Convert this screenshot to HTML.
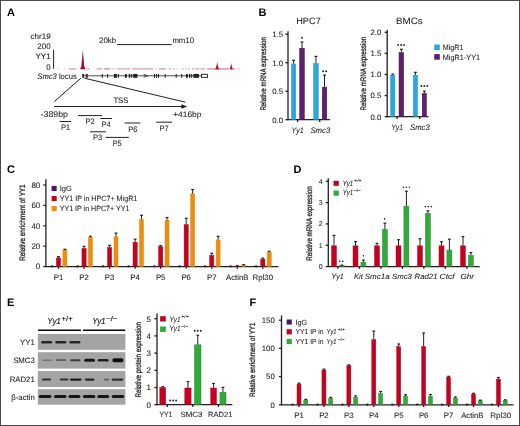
<!DOCTYPE html>
<html><head><meta charset="utf-8"><title>Figure</title>
<style>
html,body{margin:0;padding:0;background:#fff;}
body{width:520px;height:426px;overflow:hidden;}
body{position:relative;}
svg{display:block;font-family:"Liberation Sans", sans-serif;text-rendering:geometricPrecision;filter:blur(0.3px);}
#bd{position:absolute;left:0;top:0;width:518px;height:424px;border:1px solid #4a4a4a;}
</style></head><body>
<svg width="520" height="426" viewBox="0 0 520 426">
<defs><filter id="bl" x="-10%" y="-50%" width="120%" height="200%"><feGaussianBlur stdDeviation="0.45"/></filter></defs>
<rect x="0" y="0" width="520" height="426" fill="#fff"/>
<text x="7" y="16.1" font-size="11" fill="#000" font-weight="bold">A</text>
<text x="50.6" y="38.6" font-size="8" fill="#231f20" text-anchor="end" stroke="#231f20" stroke-width="0.08">chr19</text>
<text x="50.6" y="48.7" font-size="8" fill="#231f20" text-anchor="end" stroke="#231f20" stroke-width="0.08">200</text>
<text x="50.6" y="59.1" font-size="8" fill="#231f20" text-anchor="end" stroke="#231f20" stroke-width="0.08">YY1</text>
<text x="50.6" y="69.7" font-size="8" fill="#231f20" text-anchor="end" stroke="#231f20" stroke-width="0.08">0</text>
<line x1="53.6" y1="49.6" x2="53.6" y2="68.8" stroke="#231f20" stroke-width="1"/>
<text x="99" y="43" font-size="8" fill="#231f20" stroke="#231f20" stroke-width="0.08" textLength="17.2" lengthAdjust="spacingAndGlyphs">20kb</text>
<line x1="117" y1="44.6" x2="171.6" y2="44.6" stroke="#231f20" stroke-width="1"/>
<text x="172.4" y="43" font-size="8" fill="#231f20" stroke="#231f20" stroke-width="0.08" textLength="21.6" lengthAdjust="spacingAndGlyphs">mm10</text>
<line x1="57.2" y1="68.9" x2="58.6" y2="68.9" stroke="#b8506c" stroke-width="1.3" opacity="0.35"/>
<line x1="63.5" y1="68.9" x2="64.8" y2="68.9" stroke="#b8506c" stroke-width="1.3" opacity="0.3"/>
<line x1="68.5" y1="68.9" x2="76.3" y2="68.9" stroke="#b8506c" stroke-width="1.3" opacity="0.55"/>
<line x1="86.3" y1="68.9" x2="90" y2="68.9" stroke="#b8506c" stroke-width="1.3" opacity="0.45"/>
<line x1="96.5" y1="68.9" x2="102.2" y2="68.9" stroke="#b8506c" stroke-width="1.3" opacity="0.6"/>
<line x1="104.2" y1="68.9" x2="110.2" y2="68.9" stroke="#b8506c" stroke-width="1.3" opacity="0.7"/>
<line x1="112" y1="68.9" x2="115" y2="68.9" stroke="#b8506c" stroke-width="1.3" opacity="0.3"/>
<line x1="116.6" y1="68.9" x2="130.5" y2="68.9" stroke="#b8506c" stroke-width="1.3" opacity="0.5"/>
<line x1="132.3" y1="68.9" x2="153" y2="68.9" stroke="#b8506c" stroke-width="1.3" opacity="0.55"/>
<line x1="155.2" y1="68.9" x2="156.6" y2="68.9" stroke="#b8506c" stroke-width="1.3" opacity="0.45"/>
<line x1="158.9" y1="68.9" x2="165.9" y2="68.9" stroke="#b8506c" stroke-width="1.3" opacity="0.6"/>
<line x1="168.6" y1="68.9" x2="170.9" y2="68.9" stroke="#b8506c" stroke-width="1.3" opacity="0.5"/>
<line x1="172.8" y1="68.9" x2="174.6" y2="68.9" stroke="#b8506c" stroke-width="1.3" opacity="0.45"/>
<line x1="176.5" y1="68.9" x2="177.9" y2="68.9" stroke="#b8506c" stroke-width="1.3" opacity="0.4"/>
<line x1="181.5" y1="68.9" x2="183.9" y2="68.9" stroke="#b8506c" stroke-width="1.3" opacity="0.45"/>
<line x1="184.8" y1="68.9" x2="186.6" y2="68.9" stroke="#b8506c" stroke-width="1.3" opacity="0.45"/>
<line x1="188" y1="68.9" x2="189.9" y2="68.9" stroke="#b8506c" stroke-width="1.3" opacity="0.45"/>
<line x1="192.2" y1="68.9" x2="194.5" y2="68.9" stroke="#b8506c" stroke-width="1.3" opacity="0.5"/>
<line x1="196" y1="68.9" x2="199.5" y2="68.9" stroke="#b8506c" stroke-width="1.3" opacity="0.55"/>
<line x1="200.5" y1="68.9" x2="205" y2="68.9" stroke="#b8506c" stroke-width="1.3" opacity="0.55"/>
<line x1="207" y1="68.9" x2="216" y2="68.9" stroke="#b8506c" stroke-width="1.3" opacity="0.65"/>
<line x1="218" y1="68.9" x2="229" y2="68.9" stroke="#b8506c" stroke-width="1.3" opacity="0.7"/>
<line x1="232" y1="68.9" x2="235" y2="68.9" stroke="#b8506c" stroke-width="1.3" opacity="0.6"/>
<line x1="237.5" y1="68.9" x2="239.2" y2="68.9" stroke="#b8506c" stroke-width="1.3" opacity="0.45"/>
<path d="M80.0 69.3 L81.3 66.5 L82.1 58 L82.8 50.0 L83.5 58 L84.3 66.5 L85.6 69.3 Z" fill="#a8072a"/>
<path d="M215.3 69.4 L216.7 65 L217.2 61.8 L217.7 65 L219.1 69.4 Z" fill="#b0102e"/>
<path d="M229.6 69.4 L230.8 65.5 L231.2 62.8 L231.6 65.5 L232.8 69.4 Z" fill="#b0102e"/>
<text x="37.3" y="78.5" font-size="8" fill="#231f20" stroke="#231f20" stroke-width="0.08" textLength="39.4" lengthAdjust="spacingAndGlyphs"><tspan font-style="italic">Smc3</tspan> locus</text>
<line x1="84" y1="75.8" x2="201.2" y2="75.8" stroke="#4a4a4a" stroke-width="1"/>
<rect x="85.7" y="73.9" width="2.2" height="3.9" fill="#5e2a3a"/>
<rect x="82.3" y="73.9" width="1.7" height="3.9" fill="#231f20"/>
<rect x="101.8" y="73.9" width="1" height="3.9" fill="#231f20"/>
<rect x="107.1" y="73.9" width="1" height="3.9" fill="#231f20"/>
<rect x="113.9" y="73.9" width="2.9" height="3.9" fill="#231f20"/>
<rect x="117.8" y="73.9" width="1" height="3.9" fill="#231f20"/>
<rect x="124.9" y="73.9" width="1.9" height="3.9" fill="#231f20"/>
<rect x="128.8" y="73.9" width="1.4" height="3.9" fill="#231f20"/>
<rect x="131.2" y="73.9" width="1" height="3.9" fill="#231f20"/>
<rect x="133.2" y="73.9" width="4.2" height="3.9" fill="#231f20"/>
<rect x="154" y="73.9" width="1" height="3.9" fill="#231f20"/>
<rect x="155.9" y="73.9" width="1" height="3.9" fill="#231f20"/>
<rect x="157.9" y="73.9" width="1.1" height="3.9" fill="#231f20"/>
<rect x="164.7" y="73.9" width="1" height="3.9" fill="#231f20"/>
<rect x="175.7" y="73.9" width="1" height="3.9" fill="#231f20"/>
<rect x="181.2" y="73.9" width="1" height="3.9" fill="#231f20"/>
<rect x="186" y="73.9" width="1.8" height="3.9" fill="#231f20"/>
<rect x="189" y="73.9" width="1.3" height="3.9" fill="#231f20"/>
<rect x="191.2" y="73.9" width="1" height="3.9" fill="#231f20"/>
<rect x="193.4" y="73.9" width="5.5" height="3.9" fill="#231f20"/>
<path d="M143.6 74.3 L147.6 75.8 L143.6 77.3" fill="none" stroke="#231f20" stroke-width="0.8"/>
<rect x="201.5" y="74.3" width="6" height="3.1" fill="#fff" stroke="#231f20" stroke-width="0.9"/>
<line x1="81" y1="78" x2="54.4" y2="101.5" stroke="#231f20" stroke-width="1"/>
<line x1="84.5" y1="78.2" x2="185.4" y2="102.2" stroke="#231f20" stroke-width="1"/>
<line x1="54.1" y1="106.5" x2="183.5" y2="106.5" stroke="#231f20" stroke-width="1.1"/>
<path d="M181.4 104.3 L187.2 106.5 L181.4 108.7 Z" fill="#231f20"/>
<text x="113.4" y="102.6" font-size="8" fill="#231f20" stroke="#231f20" stroke-width="0.08" textLength="15" lengthAdjust="spacingAndGlyphs">TSS</text>
<text x="40.6" y="116.9" font-size="8.3" fill="#231f20" stroke="#231f20" stroke-width="0.08" textLength="27.4" lengthAdjust="spacingAndGlyphs">-389bp</text>
<text x="173.2" y="117.1" font-size="8" fill="#231f20" stroke="#231f20" stroke-width="0.08" textLength="28.2" lengthAdjust="spacingAndGlyphs">+416bp</text>
<line x1="59.6" y1="121.5" x2="71.2" y2="121.5" stroke="#231f20" stroke-width="1"/>
<text x="60.9" y="130.3" font-size="8" fill="#231f20" stroke="#231f20" stroke-width="0.08" textLength="9.2" lengthAdjust="spacingAndGlyphs">P1</text>
<line x1="78" y1="115.6" x2="101.9" y2="115.6" stroke="#231f20" stroke-width="1"/>
<text x="85.5" y="123.8" font-size="8" fill="#231f20" stroke="#231f20" stroke-width="0.08" textLength="9.2" lengthAdjust="spacingAndGlyphs">P2</text>
<line x1="100.4" y1="118.5" x2="111.9" y2="118.5" stroke="#231f20" stroke-width="1"/>
<text x="101.6" y="127.2" font-size="8" fill="#231f20" stroke="#231f20" stroke-width="0.08" textLength="9.2" lengthAdjust="spacingAndGlyphs">P4</text>
<line x1="90" y1="131.8" x2="105.8" y2="131.8" stroke="#231f20" stroke-width="1"/>
<text x="92.9" y="140.4" font-size="8" fill="#231f20" stroke="#231f20" stroke-width="0.08" textLength="9.2" lengthAdjust="spacingAndGlyphs">P3</text>
<line x1="105.8" y1="137.4" x2="128.8" y2="137.4" stroke="#231f20" stroke-width="1"/>
<text x="112.4" y="146.2" font-size="8" fill="#231f20" stroke="#231f20" stroke-width="0.08" textLength="9.2" lengthAdjust="spacingAndGlyphs">P5</text>
<line x1="124.6" y1="123" x2="140.3" y2="123" stroke="#231f20" stroke-width="1"/>
<text x="128.2" y="131.9" font-size="8" fill="#231f20" stroke="#231f20" stroke-width="0.08" textLength="9.2" lengthAdjust="spacingAndGlyphs">P6</text>
<line x1="156.2" y1="122.2" x2="172" y2="122.2" stroke="#231f20" stroke-width="1"/>
<text x="159.4" y="130.8" font-size="8" fill="#231f20" stroke="#231f20" stroke-width="0.08" textLength="9.2" lengthAdjust="spacingAndGlyphs">P7</text>
<text x="258.6" y="16.1" font-size="11" fill="#000" font-weight="bold">B</text>
<text x="296.2" y="23.6" font-size="9.2" fill="#231f20" stroke="#231f20" stroke-width="0.08" textLength="24.6" lengthAdjust="spacingAndGlyphs">HPC7</text>
<text x="266.3" y="73.8" font-size="8" fill="#231f20" text-anchor="middle" stroke="#231f20" stroke-width="0.3" textLength="73.6" lengthAdjust="spacingAndGlyphs" transform="rotate(-90 266.3 73.8)">Relative mRNA expression</text>
<line x1="288" y1="31.3" x2="288" y2="120.2" stroke="#231f20" stroke-width="1.3"/>
<line x1="285.4" y1="34.2" x2="288" y2="34.2" stroke="#231f20" stroke-width="1.3"/>
<text x="283" y="37.01" font-size="7.8" fill="#231f20" text-anchor="end" stroke="#231f20" stroke-width="0.08">1.5</text>
<line x1="285.4" y1="62.7" x2="288" y2="62.7" stroke="#231f20" stroke-width="1.3"/>
<text x="283" y="65.51" font-size="7.8" fill="#231f20" text-anchor="end" stroke="#231f20" stroke-width="0.08">1.0</text>
<line x1="285.4" y1="91.2" x2="288" y2="91.2" stroke="#231f20" stroke-width="1.3"/>
<text x="283" y="94.01" font-size="7.8" fill="#231f20" text-anchor="end" stroke="#231f20" stroke-width="0.08">0.5</text>
<line x1="285.4" y1="119.7" x2="288" y2="119.7" stroke="#231f20" stroke-width="1.3"/>
<text x="283" y="122.51" font-size="7.8" fill="#231f20" text-anchor="end" stroke="#231f20" stroke-width="0.08">0.0</text>
<line x1="288" y1="119.7" x2="329.9" y2="119.7" stroke="#231f20" stroke-width="1.3"/>
<line x1="297.6" y1="119.7" x2="297.6" y2="121.9" stroke="#231f20" stroke-width="1.3"/>
<line x1="319.7" y1="119.7" x2="319.7" y2="121.9" stroke="#231f20" stroke-width="1.3"/>
<rect x="291.5" y="63.9" width="4.2" height="55.8" fill="#29a8e0" stroke="#1d88bd" stroke-width="0.45"/>
<line x1="293.6" y1="60.2" x2="293.6" y2="63.7" stroke="#231f20" stroke-width="1"/>
<line x1="292.2" y1="60.3" x2="295" y2="60.3" stroke="#231f20" stroke-width="1.2"/>
<rect x="299.6" y="48.2" width="4.8" height="71.5" fill="#5e2068" stroke="#43134f" stroke-width="0.45"/>
<line x1="302" y1="41.9" x2="302" y2="48" stroke="#231f20" stroke-width="1"/>
<line x1="300.6" y1="42" x2="303.4" y2="42" stroke="#231f20" stroke-width="1.2"/>
<rect x="313.6" y="63.7" width="4.7" height="56" fill="#29a8e0" stroke="#1d88bd" stroke-width="0.45"/>
<line x1="315.95" y1="56.3" x2="315.95" y2="63.5" stroke="#231f20" stroke-width="1"/>
<line x1="314.55" y1="56.4" x2="317.35" y2="56.4" stroke="#231f20" stroke-width="1.2"/>
<rect x="322.2" y="87.1" width="4.6" height="32.6" fill="#5e2068" stroke="#43134f" stroke-width="0.45"/>
<line x1="324.5" y1="75" x2="324.5" y2="86.9" stroke="#231f20" stroke-width="1"/>
<line x1="323.1" y1="75.1" x2="325.9" y2="75.1" stroke="#231f20" stroke-width="1.2"/>
<circle cx="302" cy="37.8" r="0.95" fill="#231f20"/>
<circle cx="323.1" cy="71.2" r="0.95" fill="#231f20"/>
<circle cx="326.1" cy="71.2" r="0.95" fill="#231f20"/>
<text x="291.6" y="132.6" font-size="8" fill="#231f20" font-style="italic" stroke="#231f20" stroke-width="0.08" textLength="12" lengthAdjust="spacingAndGlyphs">Yy1</text>
<text x="310.4" y="132.6" font-size="8" fill="#231f20" font-style="italic" stroke="#231f20" stroke-width="0.08" textLength="19.8" lengthAdjust="spacingAndGlyphs">Smc3</text>
<text x="396.1" y="23.6" font-size="9.2" fill="#231f20" stroke="#231f20" stroke-width="0.08" textLength="26.6" lengthAdjust="spacingAndGlyphs">BMCs</text>
<text x="366" y="73.6" font-size="8" fill="#231f20" text-anchor="middle" stroke="#231f20" stroke-width="0.3" textLength="73.6" lengthAdjust="spacingAndGlyphs" transform="rotate(-90 366 73.6)">Relative mRNA expression</text>
<line x1="387.2" y1="29.7" x2="387.2" y2="117.2" stroke="#231f20" stroke-width="1.3"/>
<line x1="384.6" y1="32.3" x2="387.2" y2="32.3" stroke="#231f20" stroke-width="1.3"/>
<text x="381.3" y="35.11" font-size="7.8" fill="#231f20" text-anchor="end" stroke="#231f20" stroke-width="0.08">2.0</text>
<line x1="384.6" y1="53.4" x2="387.2" y2="53.4" stroke="#231f20" stroke-width="1.3"/>
<text x="381.3" y="56.21" font-size="7.8" fill="#231f20" text-anchor="end" stroke="#231f20" stroke-width="0.08">1.5</text>
<line x1="384.6" y1="74.5" x2="387.2" y2="74.5" stroke="#231f20" stroke-width="1.3"/>
<text x="381.3" y="77.31" font-size="7.8" fill="#231f20" text-anchor="end" stroke="#231f20" stroke-width="0.08">1.0</text>
<line x1="384.6" y1="95.6" x2="387.2" y2="95.6" stroke="#231f20" stroke-width="1.3"/>
<text x="381.3" y="98.41" font-size="7.8" fill="#231f20" text-anchor="end" stroke="#231f20" stroke-width="0.08">0.5</text>
<line x1="384.6" y1="116.7" x2="387.2" y2="116.7" stroke="#231f20" stroke-width="1.3"/>
<text x="381.3" y="119.51" font-size="7.8" fill="#231f20" text-anchor="end" stroke="#231f20" stroke-width="0.08">0.0</text>
<line x1="387.2" y1="116.7" x2="428.5" y2="116.7" stroke="#231f20" stroke-width="1.3"/>
<line x1="397" y1="116.7" x2="397" y2="118.9" stroke="#231f20" stroke-width="1.3"/>
<line x1="419.7" y1="116.7" x2="419.7" y2="118.9" stroke="#231f20" stroke-width="1.3"/>
<rect x="390.6" y="75.2" width="4.3" height="41.5" fill="#29a8e0" stroke="#1d88bd" stroke-width="0.45"/>
<line x1="392.75" y1="74" x2="392.75" y2="75" stroke="#231f20" stroke-width="1"/>
<line x1="391.35" y1="74.1" x2="394.15" y2="74.1" stroke="#231f20" stroke-width="1.2"/>
<rect x="399" y="52.5" width="4.7" height="64.2" fill="#5e2068" stroke="#43134f" stroke-width="0.45"/>
<line x1="401.35" y1="49.2" x2="401.35" y2="52.3" stroke="#231f20" stroke-width="1"/>
<line x1="399.95" y1="49.3" x2="402.75" y2="49.3" stroke="#231f20" stroke-width="1.2"/>
<rect x="413.3" y="75.2" width="4.2" height="41.5" fill="#29a8e0" stroke="#1d88bd" stroke-width="0.45"/>
<line x1="415.4" y1="72.2" x2="415.4" y2="75" stroke="#231f20" stroke-width="1"/>
<line x1="414" y1="72.3" x2="416.8" y2="72.3" stroke="#231f20" stroke-width="1.2"/>
<rect x="422.2" y="93.4" width="4.3" height="23.3" fill="#5e2068" stroke="#43134f" stroke-width="0.45"/>
<line x1="424.35" y1="91" x2="424.35" y2="93.2" stroke="#231f20" stroke-width="1"/>
<line x1="422.95" y1="91.1" x2="425.75" y2="91.1" stroke="#231f20" stroke-width="1.2"/>
<circle cx="398.1" cy="44.9" r="0.95" fill="#231f20"/>
<circle cx="401.1" cy="44.9" r="0.95" fill="#231f20"/>
<circle cx="404.1" cy="44.9" r="0.95" fill="#231f20"/>
<circle cx="421.3" cy="86" r="0.95" fill="#231f20"/>
<circle cx="424.3" cy="86" r="0.95" fill="#231f20"/>
<circle cx="427.3" cy="86" r="0.95" fill="#231f20"/>
<text x="391.3" y="129.6" font-size="8" fill="#231f20" font-style="italic" stroke="#231f20" stroke-width="0.08" textLength="11.8" lengthAdjust="spacingAndGlyphs">Yy1</text>
<text x="410" y="129.6" font-size="8" fill="#231f20" font-style="italic" stroke="#231f20" stroke-width="0.08" textLength="19.8" lengthAdjust="spacingAndGlyphs">Smc3</text>
<rect x="434.2" y="44.5" width="5.6" height="5.6" fill="#29a8e0"/>
<rect x="434.2" y="54.1" width="5.6" height="5.6" fill="#5e2068"/>
<text x="442.7" y="49.9" font-size="7.5" fill="#231f20" stroke="#231f20" stroke-width="0.08" textLength="20.8" lengthAdjust="spacingAndGlyphs">MigR1</text>
<text x="442.7" y="59.6" font-size="7.5" fill="#231f20" stroke="#231f20" stroke-width="0.08" textLength="37.4" lengthAdjust="spacingAndGlyphs">MigR1-YY1</text>
<text x="6.9" y="172.6" font-size="11" fill="#000" font-weight="bold">C</text>
<text x="25.2" y="222.6" font-size="8" fill="#231f20" text-anchor="middle" stroke="#231f20" stroke-width="0.3" textLength="76.4" lengthAdjust="spacingAndGlyphs" transform="rotate(-90 25.2 222.6)">Relative enrichment of YY1</text>
<line x1="45.9" y1="179.2" x2="45.9" y2="267.1" stroke="#231f20" stroke-width="1.3"/>
<line x1="43.3" y1="185" x2="45.9" y2="185" stroke="#231f20" stroke-width="1.3"/>
<text x="40.3" y="187.88" font-size="8" fill="#231f20" text-anchor="end" stroke="#231f20" stroke-width="0.08">80</text>
<line x1="43.3" y1="205.4" x2="45.9" y2="205.4" stroke="#231f20" stroke-width="1.3"/>
<text x="40.3" y="208.28" font-size="8" fill="#231f20" text-anchor="end" stroke="#231f20" stroke-width="0.08">60</text>
<line x1="43.3" y1="225.8" x2="45.9" y2="225.8" stroke="#231f20" stroke-width="1.3"/>
<text x="40.3" y="228.68" font-size="8" fill="#231f20" text-anchor="end" stroke="#231f20" stroke-width="0.08">40</text>
<line x1="43.3" y1="246.2" x2="45.9" y2="246.2" stroke="#231f20" stroke-width="1.3"/>
<text x="40.3" y="249.08" font-size="8" fill="#231f20" text-anchor="end" stroke="#231f20" stroke-width="0.08">20</text>
<line x1="43.3" y1="266.6" x2="45.9" y2="266.6" stroke="#231f20" stroke-width="1.3"/>
<text x="40.3" y="269.48" font-size="8" fill="#231f20" text-anchor="end" stroke="#231f20" stroke-width="0.08">0</text>
<line x1="45.9" y1="266.6" x2="278.5" y2="266.6" stroke="#231f20" stroke-width="1.3"/>
<line x1="58.5" y1="266.6" x2="58.5" y2="268.8" stroke="#231f20" stroke-width="1.3"/>
<line x1="84.04" y1="266.6" x2="84.04" y2="268.8" stroke="#231f20" stroke-width="1.3"/>
<line x1="109.58" y1="266.6" x2="109.58" y2="268.8" stroke="#231f20" stroke-width="1.3"/>
<line x1="135.12" y1="266.6" x2="135.12" y2="268.8" stroke="#231f20" stroke-width="1.3"/>
<line x1="160.66" y1="266.6" x2="160.66" y2="268.8" stroke="#231f20" stroke-width="1.3"/>
<line x1="186.2" y1="266.6" x2="186.2" y2="268.8" stroke="#231f20" stroke-width="1.3"/>
<line x1="211.74" y1="266.6" x2="211.74" y2="268.8" stroke="#231f20" stroke-width="1.3"/>
<line x1="237.28" y1="266.6" x2="237.28" y2="268.8" stroke="#231f20" stroke-width="1.3"/>
<line x1="262.82" y1="266.6" x2="262.82" y2="268.8" stroke="#231f20" stroke-width="1.3"/>
<ellipse cx="51.9" cy="266.3" rx="1.3" ry="1.1" fill="#231f20"/>
<rect x="56.4" y="257.9" width="4.2" height="8.7" fill="#c6001f" stroke="#a00a24" stroke-width="0.45"/>
<line x1="58.5" y1="256.5" x2="58.5" y2="257.7" stroke="#231f20" stroke-width="1"/>
<line x1="57.1" y1="256.6" x2="59.9" y2="256.6" stroke="#231f20" stroke-width="1.2"/>
<rect x="62.9" y="249.9" width="4" height="16.7" fill="#f08c0c" stroke="#d98200" stroke-width="0.45"/>
<line x1="64.9" y1="249.2" x2="64.9" y2="249.7" stroke="#231f20" stroke-width="1"/>
<line x1="63.5" y1="249.3" x2="66.3" y2="249.3" stroke="#231f20" stroke-width="1.2"/>
<ellipse cx="77.44" cy="266.3" rx="1.3" ry="1.1" fill="#231f20"/>
<rect x="81.94" y="248.4" width="4.2" height="18.2" fill="#c6001f" stroke="#a00a24" stroke-width="0.45"/>
<line x1="84.04" y1="246.2" x2="84.04" y2="248.2" stroke="#231f20" stroke-width="1"/>
<line x1="82.64" y1="246.3" x2="85.44" y2="246.3" stroke="#231f20" stroke-width="1.2"/>
<rect x="88.44" y="237.6" width="4" height="29" fill="#f08c0c" stroke="#d98200" stroke-width="0.45"/>
<line x1="90.44" y1="236.2" x2="90.44" y2="237.4" stroke="#231f20" stroke-width="1"/>
<line x1="89.04" y1="236.3" x2="91.84" y2="236.3" stroke="#231f20" stroke-width="1.2"/>
<ellipse cx="102.98" cy="266.3" rx="1.3" ry="1.1" fill="#231f20"/>
<rect x="107.48" y="247.4" width="4.2" height="19.2" fill="#c6001f" stroke="#a00a24" stroke-width="0.45"/>
<line x1="109.58" y1="245.3" x2="109.58" y2="247.2" stroke="#231f20" stroke-width="1"/>
<line x1="108.18" y1="245.4" x2="110.98" y2="245.4" stroke="#231f20" stroke-width="1.2"/>
<rect x="113.98" y="236.9" width="4" height="29.7" fill="#f08c0c" stroke="#d98200" stroke-width="0.45"/>
<line x1="115.98" y1="233" x2="115.98" y2="236.7" stroke="#231f20" stroke-width="1"/>
<line x1="114.58" y1="233.1" x2="117.38" y2="233.1" stroke="#231f20" stroke-width="1.2"/>
<ellipse cx="128.52" cy="266.3" rx="1.3" ry="1.1" fill="#231f20"/>
<rect x="133.02" y="242.2" width="4.2" height="24.4" fill="#c6001f" stroke="#a00a24" stroke-width="0.45"/>
<line x1="135.12" y1="239.1" x2="135.12" y2="242" stroke="#231f20" stroke-width="1"/>
<line x1="133.72" y1="239.2" x2="136.52" y2="239.2" stroke="#231f20" stroke-width="1.2"/>
<rect x="139.52" y="219.6" width="4" height="47" fill="#f08c0c" stroke="#d98200" stroke-width="0.45"/>
<line x1="141.52" y1="215.2" x2="141.52" y2="219.4" stroke="#231f20" stroke-width="1"/>
<line x1="140.12" y1="215.3" x2="142.92" y2="215.3" stroke="#231f20" stroke-width="1.2"/>
<ellipse cx="154.06" cy="266.3" rx="1.3" ry="1.1" fill="#231f20"/>
<rect x="158.56" y="246.7" width="4.2" height="19.9" fill="#c6001f" stroke="#a00a24" stroke-width="0.45"/>
<line x1="160.66" y1="245.6" x2="160.66" y2="246.5" stroke="#231f20" stroke-width="1"/>
<line x1="159.26" y1="245.7" x2="162.06" y2="245.7" stroke="#231f20" stroke-width="1.2"/>
<rect x="165.06" y="220.1" width="4" height="46.5" fill="#f08c0c" stroke="#d98200" stroke-width="0.45"/>
<line x1="167.06" y1="217.4" x2="167.06" y2="219.9" stroke="#231f20" stroke-width="1"/>
<line x1="165.66" y1="217.5" x2="168.46" y2="217.5" stroke="#231f20" stroke-width="1.2"/>
<ellipse cx="179.6" cy="266.3" rx="1.3" ry="1.1" fill="#231f20"/>
<rect x="184.1" y="224.6" width="4.2" height="42" fill="#c6001f" stroke="#a00a24" stroke-width="0.45"/>
<line x1="186.2" y1="218.2" x2="186.2" y2="224.4" stroke="#231f20" stroke-width="1"/>
<line x1="184.8" y1="218.3" x2="187.6" y2="218.3" stroke="#231f20" stroke-width="1.2"/>
<rect x="190.6" y="193.8" width="4" height="72.8" fill="#f08c0c" stroke="#d98200" stroke-width="0.45"/>
<line x1="192.6" y1="189.4" x2="192.6" y2="193.6" stroke="#231f20" stroke-width="1"/>
<line x1="191.2" y1="189.5" x2="194" y2="189.5" stroke="#231f20" stroke-width="1.2"/>
<ellipse cx="205.14" cy="266.3" rx="1.3" ry="1.1" fill="#231f20"/>
<rect x="209.64" y="255.4" width="4.2" height="11.2" fill="#c6001f" stroke="#a00a24" stroke-width="0.45"/>
<line x1="211.74" y1="253.2" x2="211.74" y2="255.2" stroke="#231f20" stroke-width="1"/>
<line x1="210.34" y1="253.3" x2="213.14" y2="253.3" stroke="#231f20" stroke-width="1.2"/>
<rect x="216.14" y="239.9" width="4" height="26.7" fill="#f08c0c" stroke="#d98200" stroke-width="0.45"/>
<line x1="218.14" y1="236.2" x2="218.14" y2="239.7" stroke="#231f20" stroke-width="1"/>
<line x1="216.74" y1="236.3" x2="219.54" y2="236.3" stroke="#231f20" stroke-width="1.2"/>
<ellipse cx="230.68" cy="266.3" rx="1.3" ry="1.1" fill="#231f20"/>
<rect x="235.18" y="266.2" width="4.2" height="0.4" fill="#c6001f" stroke="#a00a24" stroke-width="0.45"/>
<line x1="237.28" y1="265.6" x2="237.28" y2="266" stroke="#231f20" stroke-width="1"/>
<line x1="235.88" y1="265.7" x2="238.68" y2="265.7" stroke="#231f20" stroke-width="1.2"/>
<rect x="241.68" y="265.2" width="4" height="1.4" fill="#f08c0c" stroke="#d98200" stroke-width="0.45"/>
<line x1="243.68" y1="264.6" x2="243.68" y2="265" stroke="#231f20" stroke-width="1"/>
<line x1="242.28" y1="264.7" x2="245.08" y2="264.7" stroke="#231f20" stroke-width="1.2"/>
<ellipse cx="256.22" cy="266.3" rx="1.3" ry="1.1" fill="#231f20"/>
<rect x="260.72" y="259.2" width="4.2" height="7.4" fill="#c6001f" stroke="#a00a24" stroke-width="0.45"/>
<line x1="262.82" y1="258" x2="262.82" y2="259" stroke="#231f20" stroke-width="1"/>
<line x1="261.42" y1="258.1" x2="264.22" y2="258.1" stroke="#231f20" stroke-width="1.2"/>
<rect x="267.22" y="252.4" width="4" height="14.2" fill="#f08c0c" stroke="#d98200" stroke-width="0.45"/>
<line x1="269.22" y1="251.2" x2="269.22" y2="252.2" stroke="#231f20" stroke-width="1"/>
<line x1="267.82" y1="251.3" x2="270.62" y2="251.3" stroke="#231f20" stroke-width="1.2"/>
<text x="58.5" y="279.6" font-size="7.8" fill="#231f20" text-anchor="middle" stroke="#231f20" stroke-width="0.08">P1</text>
<text x="84.04" y="279.6" font-size="7.8" fill="#231f20" text-anchor="middle" stroke="#231f20" stroke-width="0.08">P2</text>
<text x="109.58" y="279.6" font-size="7.8" fill="#231f20" text-anchor="middle" stroke="#231f20" stroke-width="0.08">P3</text>
<text x="135.12" y="279.6" font-size="7.8" fill="#231f20" text-anchor="middle" stroke="#231f20" stroke-width="0.08">P4</text>
<text x="160.66" y="279.6" font-size="7.8" fill="#231f20" text-anchor="middle" stroke="#231f20" stroke-width="0.08">P5</text>
<text x="186.2" y="279.6" font-size="7.8" fill="#231f20" text-anchor="middle" stroke="#231f20" stroke-width="0.08">P6</text>
<text x="211.74" y="279.6" font-size="7.8" fill="#231f20" text-anchor="middle" stroke="#231f20" stroke-width="0.08">P7</text>
<text x="237.28" y="279.6" font-size="7.8" fill="#231f20" text-anchor="middle" stroke="#231f20" stroke-width="0.08" textLength="22.4" lengthAdjust="spacingAndGlyphs">ActinB</text>
<text x="262.82" y="279.6" font-size="7.8" fill="#231f20" text-anchor="middle" stroke="#231f20" stroke-width="0.08" textLength="20.4" lengthAdjust="spacingAndGlyphs">Rpl30</text>
<rect x="51.6" y="185.9" width="5.1" height="5.1" fill="#4b1a5e"/>
<rect x="51.6" y="196" width="5.1" height="5.1" fill="#c6001f"/>
<rect x="51.6" y="206" width="5.1" height="5.1" fill="#f08c0c"/>
<text x="59.7" y="191" font-size="7.5" fill="#231f20" stroke="#231f20" stroke-width="0.08">IgG</text>
<text x="59.7" y="200.9" font-size="7.5" fill="#231f20" stroke="#231f20" stroke-width="0.08" textLength="77.6" lengthAdjust="spacingAndGlyphs">YY1 IP in HPC7+ MigR1</text>
<text x="59.7" y="210.8" font-size="7.5" fill="#231f20" stroke="#231f20" stroke-width="0.08" textLength="69.7" lengthAdjust="spacingAndGlyphs">YY1 IP in HPC7+ YY1</text>
<text x="293.5" y="172.8" font-size="11" fill="#000" font-weight="bold">D</text>
<text x="312" y="223.5" font-size="8" fill="#231f20" text-anchor="middle" stroke="#231f20" stroke-width="0.3" textLength="74.5" lengthAdjust="spacingAndGlyphs" transform="rotate(-90 312 223.5)">Relative mRNA expression</text>
<line x1="328.3" y1="178.2" x2="328.3" y2="267.1" stroke="#231f20" stroke-width="1.3"/>
<line x1="325.7" y1="181.2" x2="328.3" y2="181.2" stroke="#231f20" stroke-width="1.3"/>
<text x="322.7" y="183.72" font-size="7" fill="#231f20" text-anchor="end" stroke="#231f20" stroke-width="0.08">4</text>
<line x1="325.7" y1="202.55" x2="328.3" y2="202.55" stroke="#231f20" stroke-width="1.3"/>
<text x="322.7" y="205.07" font-size="7" fill="#231f20" text-anchor="end" stroke="#231f20" stroke-width="0.08">3</text>
<line x1="325.7" y1="223.9" x2="328.3" y2="223.9" stroke="#231f20" stroke-width="1.3"/>
<text x="322.7" y="226.42" font-size="7" fill="#231f20" text-anchor="end" stroke="#231f20" stroke-width="0.08">2</text>
<line x1="325.7" y1="245.25" x2="328.3" y2="245.25" stroke="#231f20" stroke-width="1.3"/>
<text x="322.7" y="247.77" font-size="7" fill="#231f20" text-anchor="end" stroke="#231f20" stroke-width="0.08">1</text>
<line x1="325.7" y1="266.6" x2="328.3" y2="266.6" stroke="#231f20" stroke-width="1.3"/>
<text x="322.7" y="269.12" font-size="7" fill="#231f20" text-anchor="end" stroke="#231f20" stroke-width="0.08">0</text>
<line x1="328.3" y1="266.6" x2="479.7" y2="266.6" stroke="#231f20" stroke-width="1.3"/>
<line x1="337.9" y1="266.6" x2="337.9" y2="268.8" stroke="#231f20" stroke-width="1.3"/>
<line x1="359.4" y1="266.6" x2="359.4" y2="268.8" stroke="#231f20" stroke-width="1.3"/>
<line x1="380.9" y1="266.6" x2="380.9" y2="268.8" stroke="#231f20" stroke-width="1.3"/>
<line x1="402.4" y1="266.6" x2="402.4" y2="268.8" stroke="#231f20" stroke-width="1.3"/>
<line x1="423.9" y1="266.6" x2="423.9" y2="268.8" stroke="#231f20" stroke-width="1.3"/>
<line x1="445.4" y1="266.6" x2="445.4" y2="268.8" stroke="#231f20" stroke-width="1.3"/>
<line x1="466.9" y1="266.6" x2="466.9" y2="268.8" stroke="#231f20" stroke-width="1.3"/>
<rect x="331.5" y="245.8" width="5" height="20.8" fill="#c6001f" stroke="#a00a24" stroke-width="0.45"/>
<line x1="334" y1="235.3" x2="334" y2="245.6" stroke="#231f20" stroke-width="1"/>
<line x1="332.6" y1="235.4" x2="335.4" y2="235.4" stroke="#231f20" stroke-width="1.2"/>
<rect x="339.4" y="265.7" width="5" height="0.9" fill="#32aa3a" stroke="#23822c" stroke-width="0.45"/>
<line x1="341.9" y1="265" x2="341.9" y2="265.5" stroke="#231f20" stroke-width="1"/>
<line x1="340.5" y1="265.1" x2="343.3" y2="265.1" stroke="#231f20" stroke-width="1.2"/>
<rect x="353" y="245.8" width="5" height="20.8" fill="#c6001f" stroke="#a00a24" stroke-width="0.45"/>
<line x1="355.5" y1="241.5" x2="355.5" y2="245.6" stroke="#231f20" stroke-width="1"/>
<line x1="354.1" y1="241.6" x2="356.9" y2="241.6" stroke="#231f20" stroke-width="1.2"/>
<rect x="360.9" y="262.1" width="5" height="4.5" fill="#32aa3a" stroke="#23822c" stroke-width="0.45"/>
<line x1="363.4" y1="260" x2="363.4" y2="261.9" stroke="#231f20" stroke-width="1"/>
<line x1="362" y1="260.1" x2="364.8" y2="260.1" stroke="#231f20" stroke-width="1.2"/>
<rect x="374.5" y="245.8" width="5" height="20.8" fill="#c6001f" stroke="#a00a24" stroke-width="0.45"/>
<line x1="377" y1="243.3" x2="377" y2="245.6" stroke="#231f20" stroke-width="1"/>
<line x1="375.6" y1="243.4" x2="378.4" y2="243.4" stroke="#231f20" stroke-width="1.2"/>
<rect x="382.4" y="229.5" width="5" height="37.1" fill="#32aa3a" stroke="#23822c" stroke-width="0.45"/>
<line x1="384.9" y1="223.1" x2="384.9" y2="229.3" stroke="#231f20" stroke-width="1"/>
<line x1="383.5" y1="223.2" x2="386.3" y2="223.2" stroke="#231f20" stroke-width="1.2"/>
<rect x="396" y="245.8" width="5" height="20.8" fill="#c6001f" stroke="#a00a24" stroke-width="0.45"/>
<line x1="398.5" y1="239.6" x2="398.5" y2="245.6" stroke="#231f20" stroke-width="1"/>
<line x1="397.1" y1="239.7" x2="399.9" y2="239.7" stroke="#231f20" stroke-width="1.2"/>
<rect x="403.9" y="206.1" width="5" height="60.5" fill="#32aa3a" stroke="#23822c" stroke-width="0.45"/>
<line x1="406.4" y1="191.1" x2="406.4" y2="205.9" stroke="#231f20" stroke-width="1"/>
<line x1="405" y1="191.2" x2="407.8" y2="191.2" stroke="#231f20" stroke-width="1.2"/>
<rect x="417.5" y="245.8" width="5" height="20.8" fill="#c6001f" stroke="#a00a24" stroke-width="0.45"/>
<line x1="420" y1="238.6" x2="420" y2="245.6" stroke="#231f20" stroke-width="1"/>
<line x1="418.6" y1="238.7" x2="421.4" y2="238.7" stroke="#231f20" stroke-width="1.2"/>
<rect x="425.4" y="213.4" width="5" height="53.2" fill="#32aa3a" stroke="#23822c" stroke-width="0.45"/>
<line x1="427.9" y1="210.8" x2="427.9" y2="213.2" stroke="#231f20" stroke-width="1"/>
<line x1="426.5" y1="210.9" x2="429.3" y2="210.9" stroke="#231f20" stroke-width="1.2"/>
<rect x="439" y="245.8" width="5" height="20.8" fill="#c6001f" stroke="#a00a24" stroke-width="0.45"/>
<line x1="441.5" y1="241.7" x2="441.5" y2="245.6" stroke="#231f20" stroke-width="1"/>
<line x1="440.1" y1="241.8" x2="442.9" y2="241.8" stroke="#231f20" stroke-width="1.2"/>
<rect x="446.9" y="250" width="5" height="16.6" fill="#32aa3a" stroke="#23822c" stroke-width="0.45"/>
<line x1="449.4" y1="239.1" x2="449.4" y2="249.8" stroke="#231f20" stroke-width="1"/>
<line x1="448" y1="239.2" x2="450.8" y2="239.2" stroke="#231f20" stroke-width="1.2"/>
<rect x="460.5" y="245.8" width="5" height="20.8" fill="#c6001f" stroke="#a00a24" stroke-width="0.45"/>
<line x1="463" y1="236.5" x2="463" y2="245.6" stroke="#231f20" stroke-width="1"/>
<line x1="461.6" y1="236.6" x2="464.4" y2="236.6" stroke="#231f20" stroke-width="1.2"/>
<rect x="468.4" y="255.3" width="5" height="11.3" fill="#32aa3a" stroke="#23822c" stroke-width="0.45"/>
<line x1="470.9" y1="252.5" x2="470.9" y2="255.1" stroke="#231f20" stroke-width="1"/>
<line x1="469.5" y1="252.6" x2="472.3" y2="252.6" stroke="#231f20" stroke-width="1.2"/>
<circle cx="339.8" cy="261.3" r="0.8" fill="#231f20"/>
<circle cx="342.8" cy="261.3" r="0.8" fill="#231f20"/>
<circle cx="363.4" cy="255.8" r="0.8" fill="#231f20"/>
<circle cx="384.6" cy="218.9" r="0.8" fill="#231f20"/>
<circle cx="403.4" cy="187.3" r="0.8" fill="#231f20"/>
<circle cx="406.4" cy="187.3" r="0.8" fill="#231f20"/>
<circle cx="409.4" cy="187.3" r="0.8" fill="#231f20"/>
<circle cx="425.2" cy="206.6" r="0.8" fill="#231f20"/>
<circle cx="428.2" cy="206.6" r="0.8" fill="#231f20"/>
<circle cx="431.2" cy="206.6" r="0.8" fill="#231f20"/>
<text x="331.6" y="279" font-size="7.5" fill="#231f20" font-style="italic" stroke="#231f20" stroke-width="0.08" textLength="12.2" lengthAdjust="spacingAndGlyphs">Yy1</text>
<text x="354" y="279" font-size="7.5" fill="#231f20" font-style="italic" stroke="#231f20" stroke-width="0.08" textLength="8.8" lengthAdjust="spacingAndGlyphs">Kit</text>
<text x="364.7" y="279" font-size="7.5" fill="#231f20" font-style="italic" stroke="#231f20" stroke-width="0.08" textLength="25" lengthAdjust="spacingAndGlyphs">Smc1a</text>
<text x="392" y="279" font-size="7.5" fill="#231f20" font-style="italic" stroke="#231f20" stroke-width="0.08" textLength="19.9" lengthAdjust="spacingAndGlyphs">Smc3</text>
<text x="414.5" y="279" font-size="7.5" fill="#231f20" font-style="italic" stroke="#231f20" stroke-width="0.08" textLength="23" lengthAdjust="spacingAndGlyphs">Rad21</text>
<text x="439.6" y="279" font-size="7.5" fill="#231f20" font-style="italic" stroke="#231f20" stroke-width="0.08" textLength="15" lengthAdjust="spacingAndGlyphs">Ctcf</text>
<text x="460.4" y="279" font-size="7.5" fill="#231f20" font-style="italic" stroke="#231f20" stroke-width="0.08" textLength="13.7" lengthAdjust="spacingAndGlyphs">Ghr</text>
<rect x="333.5" y="180.8" width="5.3" height="5" fill="#c6001f"/>
<rect x="333.5" y="190.5" width="5.3" height="5.2" fill="#32aa3a"/>
<text x="342.7" y="185.8" font-size="7.5" fill="#231f20" font-style="italic" stroke="#231f20" stroke-width="0.08" textLength="10.4" lengthAdjust="spacingAndGlyphs">Yy1</text>
<text x="354.2" y="182.4" font-size="4.5" fill="#231f20" stroke="#231f20" stroke-width="0.08" textLength="7.3" lengthAdjust="spacingAndGlyphs">+/+</text>
<text x="342.7" y="195.4" font-size="7.5" fill="#231f20" font-style="italic" stroke="#231f20" stroke-width="0.08" textLength="10.4" lengthAdjust="spacingAndGlyphs">Yy1</text>
<text x="354.2" y="192" font-size="4.5" fill="#231f20" stroke="#231f20" stroke-width="0.08" textLength="6.6" lengthAdjust="spacingAndGlyphs">−/−</text>
<text x="6.9" y="305.7" font-size="11" fill="#000" font-weight="bold">E</text>
<text x="47.6" y="324.3" font-size="8.6" fill="#231f20" font-style="italic" stroke="#231f20" stroke-width="0.22" textLength="13" lengthAdjust="spacingAndGlyphs">Yy1</text>
<text x="61.6" y="320.8" font-size="6.8" fill="#231f20" stroke="#231f20" stroke-width="0.22" textLength="11" lengthAdjust="spacingAndGlyphs">+/+</text>
<text x="92.6" y="324.3" font-size="8.6" fill="#231f20" font-style="italic" stroke="#231f20" stroke-width="0.22" textLength="12.9" lengthAdjust="spacingAndGlyphs">Yy1</text>
<text x="106.2" y="320.8" font-size="6.8" fill="#231f20" stroke="#231f20" stroke-width="0.22" textLength="11" lengthAdjust="spacingAndGlyphs">−/−</text>
<line x1="38.1" y1="330.2" x2="80.9" y2="330.2" stroke="#000" stroke-width="1.4"/>
<line x1="82.9" y1="330.2" x2="125.2" y2="330.2" stroke="#000" stroke-width="1.4"/>
<rect x="37.8" y="334" width="87.6" height="15.8" fill="#a4a4a4"/>
<rect x="37.8" y="352.2" width="87.6" height="16.4" fill="#a4a4a4"/>
<rect x="37.8" y="371" width="87.6" height="16" fill="#a4a4a4"/>
<rect x="37.8" y="389.2" width="87.6" height="15.5" fill="#a4a4a4"/>
<text x="34.8" y="344.8" font-size="7.8" fill="#231f20" text-anchor="end" stroke="#231f20" stroke-width="0.08">YY1</text>
<text x="34.8" y="363" font-size="7.8" fill="#231f20" text-anchor="end" stroke="#231f20" stroke-width="0.08">SMC3</text>
<text x="34.8" y="381.8" font-size="7.8" fill="#231f20" text-anchor="end" stroke="#231f20" stroke-width="0.08">RAD21</text>
<text x="34.8" y="399.7" font-size="7.8" fill="#231f20" text-anchor="end" stroke="#231f20" stroke-width="0.08">β-actin</text>
<g filter="url(#bl)">
<rect x="41.2" y="341.1" width="10.9" height="2.4" rx="1.2" fill="#111" opacity="0.85"/>
<rect x="55.4" y="341.1" width="10.8" height="2.4" rx="1.2" fill="#111" opacity="0.85"/>
<rect x="69.4" y="341.1" width="11" height="2.4" rx="1.2" fill="#111" opacity="0.85"/>
<rect x="42.5" y="359.4" width="9" height="1.6" rx="0.8" fill="#111" opacity="0.35"/>
<rect x="56" y="359.3" width="10.2" height="1.8" rx="0.9" fill="#111" opacity="0.5"/>
<rect x="70" y="359.2" width="10.4" height="2" rx="1" fill="#111" opacity="0.7"/>
<rect x="84.2" y="358.7" width="10.8" height="3" rx="1.5" fill="#111" opacity="0.95"/>
<rect x="97.8" y="358.9" width="10.8" height="2.6" rx="1.3" fill="#111" opacity="0.9"/>
<rect x="112.4" y="358.2" width="11" height="4" rx="1.6" fill="#111" opacity="1"/>
<rect x="41.9" y="378.6" width="9.3" height="2" rx="1" fill="#111" opacity="0.75"/>
<rect x="59.8" y="378.6" width="8.7" height="2" rx="1" fill="#111" opacity="0.75"/>
<rect x="70" y="378.4" width="11.5" height="2.4" rx="1.2" fill="#111" opacity="0.9"/>
<rect x="84.8" y="378.5" width="9.6" height="2.2" rx="1.1" fill="#111" opacity="0.85"/>
<rect x="104" y="378.75" width="5.2" height="1.7" rx="0.85" fill="#111" opacity="0.5"/>
<rect x="111.7" y="378.5" width="11.6" height="2.2" rx="1.1" fill="#111" opacity="0.8"/>
<rect x="38.7" y="395.1" width="12.8" height="3" rx="1.5" fill="#111" opacity="0.95"/>
<rect x="54" y="395.1" width="12.5" height="3" rx="1.5" fill="#111" opacity="0.95"/>
<rect x="68.5" y="395.1" width="11.9" height="3" rx="1.5" fill="#111" opacity="0.95"/>
<rect x="82.9" y="395.1" width="12.5" height="3" rx="1.5" fill="#111" opacity="0.95"/>
<rect x="97.3" y="395.1" width="11.9" height="3" rx="1.5" fill="#111" opacity="0.95"/>
<rect x="111.7" y="395.1" width="12.5" height="3" rx="1.5" fill="#111" opacity="0.95"/>
</g>
<text x="141" y="359.8" font-size="8" fill="#231f20" text-anchor="middle" stroke="#231f20" stroke-width="0.3" textLength="75.6" lengthAdjust="spacingAndGlyphs" transform="rotate(-90 141 359.8)">Relative protein expression</text>
<line x1="157" y1="313.5" x2="157" y2="405.2" stroke="#231f20" stroke-width="1.3"/>
<line x1="154.4" y1="318.7" x2="157" y2="318.7" stroke="#231f20" stroke-width="1.3"/>
<text x="151" y="321.58" font-size="8" fill="#231f20" text-anchor="end" stroke="#231f20" stroke-width="0.08">5</text>
<line x1="154.4" y1="335.9" x2="157" y2="335.9" stroke="#231f20" stroke-width="1.3"/>
<text x="151" y="338.78" font-size="8" fill="#231f20" text-anchor="end" stroke="#231f20" stroke-width="0.08">4</text>
<line x1="154.4" y1="353.1" x2="157" y2="353.1" stroke="#231f20" stroke-width="1.3"/>
<text x="151" y="355.98" font-size="8" fill="#231f20" text-anchor="end" stroke="#231f20" stroke-width="0.08">3</text>
<line x1="154.4" y1="370.3" x2="157" y2="370.3" stroke="#231f20" stroke-width="1.3"/>
<text x="151" y="373.18" font-size="8" fill="#231f20" text-anchor="end" stroke="#231f20" stroke-width="0.08">2</text>
<line x1="154.4" y1="387.5" x2="157" y2="387.5" stroke="#231f20" stroke-width="1.3"/>
<text x="151" y="390.38" font-size="8" fill="#231f20" text-anchor="end" stroke="#231f20" stroke-width="0.08">1</text>
<line x1="154.4" y1="404.7" x2="157" y2="404.7" stroke="#231f20" stroke-width="1.3"/>
<text x="151" y="407.58" font-size="8" fill="#231f20" text-anchor="end" stroke="#231f20" stroke-width="0.08">0</text>
<line x1="157" y1="404.7" x2="232.4" y2="404.7" stroke="#231f20" stroke-width="1.3"/>
<line x1="167.3" y1="404.7" x2="167.3" y2="406.9" stroke="#231f20" stroke-width="1.3"/>
<line x1="192.8" y1="404.7" x2="192.8" y2="406.9" stroke="#231f20" stroke-width="1.3"/>
<line x1="218.4" y1="404.7" x2="218.4" y2="406.9" stroke="#231f20" stroke-width="1.3"/>
<rect x="159.8" y="387.5" width="5.9" height="17.2" fill="#c6001f" stroke="#a00a24" stroke-width="0.45"/>
<line x1="162.75" y1="386.6" x2="162.75" y2="387.3" stroke="#231f20" stroke-width="1"/>
<line x1="161.35" y1="386.7" x2="164.15" y2="386.7" stroke="#231f20" stroke-width="1.2"/>
<rect x="184.8" y="388" width="6.3" height="16.7" fill="#c6001f" stroke="#a00a24" stroke-width="0.45"/>
<line x1="187.95" y1="381.6" x2="187.95" y2="387.8" stroke="#231f20" stroke-width="1"/>
<line x1="186.55" y1="381.7" x2="189.35" y2="381.7" stroke="#231f20" stroke-width="1.2"/>
<rect x="194.5" y="344.8" width="6.5" height="59.9" fill="#32aa3a" stroke="#23822c" stroke-width="0.45"/>
<line x1="197.75" y1="335.1" x2="197.75" y2="344.6" stroke="#231f20" stroke-width="1"/>
<line x1="196.35" y1="335.2" x2="199.15" y2="335.2" stroke="#231f20" stroke-width="1.2"/>
<rect x="210.7" y="388" width="5.8" height="16.7" fill="#c6001f" stroke="#a00a24" stroke-width="0.45"/>
<line x1="213.6" y1="383.4" x2="213.6" y2="387.8" stroke="#231f20" stroke-width="1"/>
<line x1="212.2" y1="383.5" x2="215" y2="383.5" stroke="#231f20" stroke-width="1.2"/>
<rect x="219.9" y="392.2" width="6.1" height="12.5" fill="#32aa3a" stroke="#23822c" stroke-width="0.45"/>
<line x1="222.95" y1="387.3" x2="222.95" y2="392" stroke="#231f20" stroke-width="1"/>
<line x1="221.55" y1="387.4" x2="224.35" y2="387.4" stroke="#231f20" stroke-width="1.2"/>
<circle cx="170.1" cy="400.5" r="0.95" fill="#231f20"/>
<circle cx="173.1" cy="400.5" r="0.95" fill="#231f20"/>
<circle cx="176.1" cy="400.5" r="0.95" fill="#231f20"/>
<circle cx="194.7" cy="330.8" r="0.95" fill="#231f20"/>
<circle cx="197.7" cy="330.8" r="0.95" fill="#231f20"/>
<circle cx="200.7" cy="330.8" r="0.95" fill="#231f20"/>
<text x="159.6" y="417" font-size="7.5" fill="#231f20" stroke="#231f20" stroke-width="0.08" textLength="12.7" lengthAdjust="spacingAndGlyphs">YY1</text>
<text x="180.4" y="417" font-size="7.5" fill="#231f20" stroke="#231f20" stroke-width="0.08" textLength="22" lengthAdjust="spacingAndGlyphs">SMC3</text>
<text x="208.1" y="417" font-size="7.5" fill="#231f20" stroke="#231f20" stroke-width="0.08" textLength="24.3" lengthAdjust="spacingAndGlyphs">RAD21</text>
<rect x="160.1" y="316.2" width="5.7" height="5.3" fill="#c6001f"/>
<rect x="160.1" y="326.5" width="5.7" height="5.5" fill="#32aa3a"/>
<text x="169.6" y="321.5" font-size="7.5" fill="#231f20" font-style="italic" stroke="#231f20" stroke-width="0.08" textLength="10.8" lengthAdjust="spacingAndGlyphs">Yy1</text>
<text x="181.2" y="318.1" font-size="4.5" fill="#231f20" stroke="#231f20" stroke-width="0.08" textLength="7.6" lengthAdjust="spacingAndGlyphs">+/+</text>
<text x="169.6" y="331.2" font-size="7.5" fill="#231f20" font-style="italic" stroke="#231f20" stroke-width="0.08" textLength="10.8" lengthAdjust="spacingAndGlyphs">Yy1</text>
<text x="181.2" y="327.8" font-size="4.5" fill="#231f20" stroke="#231f20" stroke-width="0.08" textLength="7" lengthAdjust="spacingAndGlyphs">−/−</text>
<text x="249.4" y="305.8" font-size="11" fill="#000" font-weight="bold">F</text>
<text x="255.5" y="359.8" font-size="8" fill="#231f20" text-anchor="middle" stroke="#231f20" stroke-width="0.3" textLength="74.2" lengthAdjust="spacingAndGlyphs" transform="rotate(-90 255.5 359.8)">Relative enrichment of YY1</text>
<line x1="281.5" y1="315.4" x2="281.5" y2="405.3" stroke="#231f20" stroke-width="1.3"/>
<line x1="278.9" y1="320.2" x2="281.5" y2="320.2" stroke="#231f20" stroke-width="1.3"/>
<text x="274.8" y="323.01" font-size="7.8" fill="#231f20" text-anchor="end" stroke="#231f20" stroke-width="0.08">150</text>
<line x1="278.9" y1="348.4" x2="281.5" y2="348.4" stroke="#231f20" stroke-width="1.3"/>
<text x="274.8" y="351.21" font-size="7.8" fill="#231f20" text-anchor="end" stroke="#231f20" stroke-width="0.08">100</text>
<line x1="278.9" y1="376.6" x2="281.5" y2="376.6" stroke="#231f20" stroke-width="1.3"/>
<text x="274.8" y="379.41" font-size="7.8" fill="#231f20" text-anchor="end" stroke="#231f20" stroke-width="0.08">50</text>
<line x1="278.9" y1="404.8" x2="281.5" y2="404.8" stroke="#231f20" stroke-width="1.3"/>
<text x="274.8" y="407.61" font-size="7.8" fill="#231f20" text-anchor="end" stroke="#231f20" stroke-width="0.08">0</text>
<line x1="281.5" y1="404.8" x2="513.5" y2="404.8" stroke="#231f20" stroke-width="1.3"/>
<line x1="299" y1="404.8" x2="299" y2="407" stroke="#231f20" stroke-width="1.3"/>
<line x1="323.93" y1="404.8" x2="323.93" y2="407" stroke="#231f20" stroke-width="1.3"/>
<line x1="348.86" y1="404.8" x2="348.86" y2="407" stroke="#231f20" stroke-width="1.3"/>
<line x1="373.79" y1="404.8" x2="373.79" y2="407" stroke="#231f20" stroke-width="1.3"/>
<line x1="398.72" y1="404.8" x2="398.72" y2="407" stroke="#231f20" stroke-width="1.3"/>
<line x1="423.65" y1="404.8" x2="423.65" y2="407" stroke="#231f20" stroke-width="1.3"/>
<line x1="448.58" y1="404.8" x2="448.58" y2="407" stroke="#231f20" stroke-width="1.3"/>
<line x1="473.51" y1="404.8" x2="473.51" y2="407" stroke="#231f20" stroke-width="1.3"/>
<line x1="498.44" y1="404.8" x2="498.44" y2="407" stroke="#231f20" stroke-width="1.3"/>
<ellipse cx="292.6" cy="404.5" rx="1.3" ry="1.0" fill="#231f20"/>
<rect x="297" y="384.1" width="4" height="20.7" fill="#c6001f" stroke="#a00a24" stroke-width="0.45"/>
<line x1="299" y1="383" x2="299" y2="383.9" stroke="#231f20" stroke-width="1"/>
<line x1="297.6" y1="383.1" x2="300.4" y2="383.1" stroke="#231f20" stroke-width="1.2"/>
<rect x="303.8" y="400.1" width="4" height="4.7" fill="#32aa3a" stroke="#23822c" stroke-width="0.45"/>
<line x1="305.8" y1="399.3" x2="305.8" y2="399.9" stroke="#231f20" stroke-width="1"/>
<line x1="304.4" y1="399.4" x2="307.2" y2="399.4" stroke="#231f20" stroke-width="1.2"/>
<ellipse cx="317.53" cy="404.5" rx="1.3" ry="1.0" fill="#231f20"/>
<rect x="321.93" y="370" width="4" height="34.8" fill="#c6001f" stroke="#a00a24" stroke-width="0.45"/>
<line x1="323.93" y1="369" x2="323.93" y2="369.8" stroke="#231f20" stroke-width="1"/>
<line x1="322.53" y1="369.1" x2="325.33" y2="369.1" stroke="#231f20" stroke-width="1.2"/>
<rect x="328.73" y="398.4" width="4" height="6.4" fill="#32aa3a" stroke="#23822c" stroke-width="0.45"/>
<line x1="330.73" y1="397.3" x2="330.73" y2="398.2" stroke="#231f20" stroke-width="1"/>
<line x1="329.33" y1="397.4" x2="332.13" y2="397.4" stroke="#231f20" stroke-width="1.2"/>
<ellipse cx="342.46" cy="404.5" rx="1.3" ry="1.0" fill="#231f20"/>
<rect x="346.86" y="365.7" width="4" height="39.1" fill="#c6001f" stroke="#a00a24" stroke-width="0.45"/>
<line x1="348.86" y1="364.8" x2="348.86" y2="365.5" stroke="#231f20" stroke-width="1"/>
<line x1="347.46" y1="364.9" x2="350.26" y2="364.9" stroke="#231f20" stroke-width="1.2"/>
<rect x="353.66" y="397.3" width="4" height="7.5" fill="#32aa3a" stroke="#23822c" stroke-width="0.45"/>
<line x1="355.66" y1="395.8" x2="355.66" y2="397.1" stroke="#231f20" stroke-width="1"/>
<line x1="354.26" y1="395.9" x2="357.06" y2="395.9" stroke="#231f20" stroke-width="1.2"/>
<ellipse cx="367.39" cy="404.5" rx="1.3" ry="1.0" fill="#231f20"/>
<rect x="371.79" y="339.7" width="4" height="65.1" fill="#c6001f" stroke="#a00a24" stroke-width="0.45"/>
<line x1="373.79" y1="331" x2="373.79" y2="339.5" stroke="#231f20" stroke-width="1"/>
<line x1="372.39" y1="331.1" x2="375.19" y2="331.1" stroke="#231f20" stroke-width="1.2"/>
<rect x="378.59" y="393.7" width="4" height="11.1" fill="#32aa3a" stroke="#23822c" stroke-width="0.45"/>
<line x1="380.59" y1="391.4" x2="380.59" y2="393.5" stroke="#231f20" stroke-width="1"/>
<line x1="379.19" y1="391.5" x2="381.99" y2="391.5" stroke="#231f20" stroke-width="1.2"/>
<ellipse cx="392.32" cy="404.5" rx="1.3" ry="1.0" fill="#231f20"/>
<rect x="396.72" y="346.7" width="4" height="58.1" fill="#c6001f" stroke="#a00a24" stroke-width="0.45"/>
<line x1="398.72" y1="343.9" x2="398.72" y2="346.5" stroke="#231f20" stroke-width="1"/>
<line x1="397.32" y1="344" x2="400.12" y2="344" stroke="#231f20" stroke-width="1.2"/>
<rect x="403.52" y="396.2" width="4" height="8.6" fill="#32aa3a" stroke="#23822c" stroke-width="0.45"/>
<line x1="405.52" y1="394.7" x2="405.52" y2="396" stroke="#231f20" stroke-width="1"/>
<line x1="404.12" y1="394.8" x2="406.92" y2="394.8" stroke="#231f20" stroke-width="1.2"/>
<ellipse cx="417.25" cy="404.5" rx="1.3" ry="1.0" fill="#231f20"/>
<rect x="421.65" y="346.5" width="4" height="58.3" fill="#c6001f" stroke="#a00a24" stroke-width="0.45"/>
<line x1="423.65" y1="332.9" x2="423.65" y2="346.3" stroke="#231f20" stroke-width="1"/>
<line x1="422.25" y1="333" x2="425.05" y2="333" stroke="#231f20" stroke-width="1.2"/>
<rect x="428.45" y="396.2" width="4" height="8.6" fill="#32aa3a" stroke="#23822c" stroke-width="0.45"/>
<line x1="430.45" y1="394.4" x2="430.45" y2="396" stroke="#231f20" stroke-width="1"/>
<line x1="429.05" y1="394.5" x2="431.85" y2="394.5" stroke="#231f20" stroke-width="1.2"/>
<ellipse cx="442.18" cy="404.5" rx="1.3" ry="1.0" fill="#231f20"/>
<rect x="446.58" y="377.2" width="4" height="27.6" fill="#c6001f" stroke="#a00a24" stroke-width="0.45"/>
<line x1="448.58" y1="376.2" x2="448.58" y2="377" stroke="#231f20" stroke-width="1"/>
<line x1="447.18" y1="376.3" x2="449.98" y2="376.3" stroke="#231f20" stroke-width="1.2"/>
<rect x="453.38" y="398.1" width="4" height="6.7" fill="#32aa3a" stroke="#23822c" stroke-width="0.45"/>
<line x1="455.38" y1="396.9" x2="455.38" y2="397.9" stroke="#231f20" stroke-width="1"/>
<line x1="453.98" y1="397" x2="456.78" y2="397" stroke="#231f20" stroke-width="1.2"/>
<ellipse cx="467.11" cy="404.5" rx="1.3" ry="1.0" fill="#231f20"/>
<rect x="471.51" y="394.1" width="4" height="10.7" fill="#c6001f" stroke="#a00a24" stroke-width="0.45"/>
<line x1="473.51" y1="393.2" x2="473.51" y2="393.9" stroke="#231f20" stroke-width="1"/>
<line x1="472.11" y1="393.3" x2="474.91" y2="393.3" stroke="#231f20" stroke-width="1.2"/>
<rect x="478.31" y="400.9" width="4" height="3.9" fill="#32aa3a" stroke="#23822c" stroke-width="0.45"/>
<line x1="480.31" y1="400.1" x2="480.31" y2="400.7" stroke="#231f20" stroke-width="1"/>
<line x1="478.91" y1="400.2" x2="481.71" y2="400.2" stroke="#231f20" stroke-width="1.2"/>
<ellipse cx="492.04" cy="404.5" rx="1.3" ry="1.0" fill="#231f20"/>
<rect x="496.44" y="379.1" width="4" height="25.7" fill="#c6001f" stroke="#a00a24" stroke-width="0.45"/>
<line x1="498.44" y1="377.4" x2="498.44" y2="378.9" stroke="#231f20" stroke-width="1"/>
<line x1="497.04" y1="377.5" x2="499.84" y2="377.5" stroke="#231f20" stroke-width="1.2"/>
<rect x="503.24" y="400.7" width="4" height="4.1" fill="#32aa3a" stroke="#23822c" stroke-width="0.45"/>
<line x1="505.24" y1="399.7" x2="505.24" y2="400.5" stroke="#231f20" stroke-width="1"/>
<line x1="503.84" y1="399.8" x2="506.64" y2="399.8" stroke="#231f20" stroke-width="1.2"/>
<text x="299" y="417.6" font-size="7.8" fill="#231f20" text-anchor="middle" stroke="#231f20" stroke-width="0.08">P1</text>
<text x="323.93" y="417.6" font-size="7.8" fill="#231f20" text-anchor="middle" stroke="#231f20" stroke-width="0.08">P2</text>
<text x="348.86" y="417.6" font-size="7.8" fill="#231f20" text-anchor="middle" stroke="#231f20" stroke-width="0.08">P3</text>
<text x="373.79" y="417.6" font-size="7.8" fill="#231f20" text-anchor="middle" stroke="#231f20" stroke-width="0.08">P4</text>
<text x="398.72" y="417.6" font-size="7.8" fill="#231f20" text-anchor="middle" stroke="#231f20" stroke-width="0.08">P5</text>
<text x="423.65" y="417.6" font-size="7.8" fill="#231f20" text-anchor="middle" stroke="#231f20" stroke-width="0.08">P6</text>
<text x="448.58" y="417.6" font-size="7.8" fill="#231f20" text-anchor="middle" stroke="#231f20" stroke-width="0.08">P7</text>
<text x="472.3" y="417.6" font-size="7.8" fill="#231f20" text-anchor="middle" stroke="#231f20" stroke-width="0.08" textLength="22.3" lengthAdjust="spacingAndGlyphs">ActinB</text>
<text x="500.8" y="417.6" font-size="7.8" fill="#231f20" text-anchor="middle" stroke="#231f20" stroke-width="0.08" textLength="21" lengthAdjust="spacingAndGlyphs">Rpl30</text>
<rect x="286.6" y="319.5" width="5.2" height="5.1" fill="#4b1a5e"/>
<rect x="286.6" y="329.2" width="5.2" height="5.2" fill="#c6001f"/>
<rect x="286.6" y="338.9" width="5.2" height="5.2" fill="#32aa3a"/>
<text x="295.5" y="324.9" font-size="7.5" fill="#231f20" stroke="#231f20" stroke-width="0.08" textLength="11.6" lengthAdjust="spacingAndGlyphs">IgG</text>
<text x="295.6" y="334.2" font-size="7.2" fill="#231f20" stroke="#231f20" stroke-width="0.08" textLength="28" lengthAdjust="spacingAndGlyphs">YY1 IP in</text>
<text x="326.6" y="334.2" font-size="7.2" fill="#231f20" font-style="italic" stroke="#231f20" stroke-width="0.08" textLength="9.9" lengthAdjust="spacingAndGlyphs">Yy1</text>
<text x="338.1" y="330.8" font-size="4.5" fill="#231f20" stroke="#231f20" stroke-width="0.08" textLength="6.5" lengthAdjust="spacingAndGlyphs">+/+</text>
<text x="295.6" y="343.9" font-size="7.2" fill="#231f20" stroke="#231f20" stroke-width="0.08" textLength="28" lengthAdjust="spacingAndGlyphs">YY1 IP in</text>
<text x="326.6" y="343.9" font-size="7.2" fill="#231f20" font-style="italic" stroke="#231f20" stroke-width="0.08" textLength="9.9" lengthAdjust="spacingAndGlyphs">Yy1</text>
<text x="338.1" y="340.5" font-size="4.5" fill="#231f20" stroke="#231f20" stroke-width="0.08" textLength="6.5" lengthAdjust="spacingAndGlyphs">−/−</text>
</svg>
<div id="bd"></div>
</body></html>
